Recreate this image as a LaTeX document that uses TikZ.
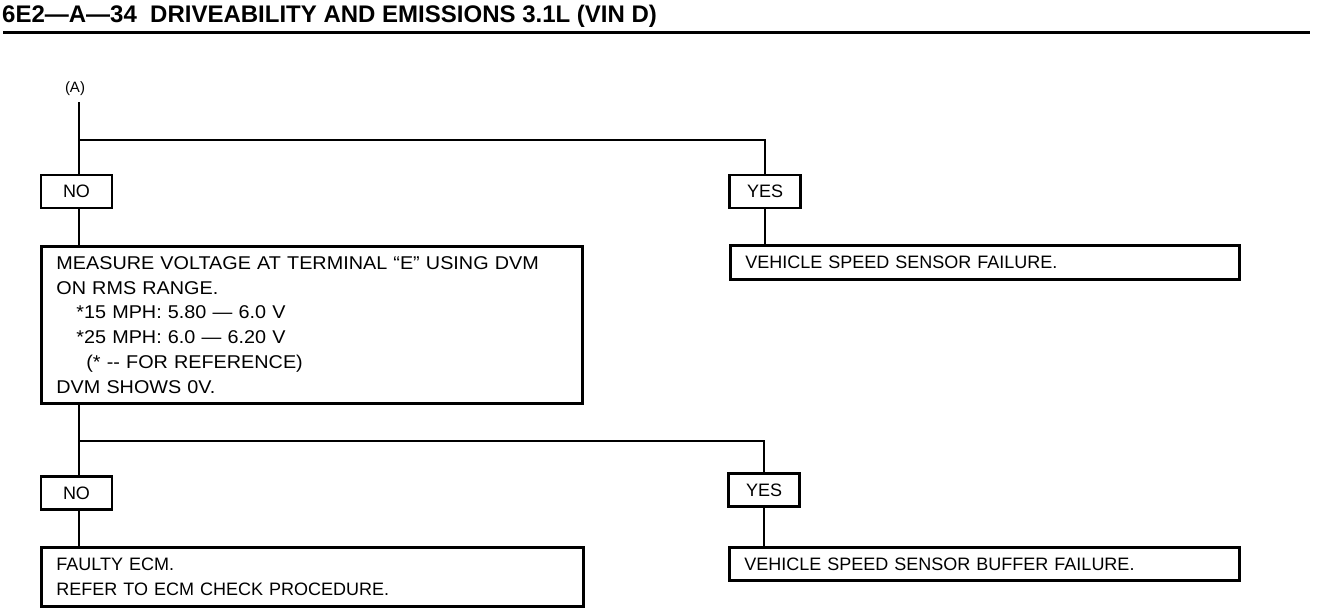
\documentclass[tikz,border=0pt]{standalone}
\usepackage{fontspec}
\setmainfont{Liberation Sans}
\newfontfamily\widefont[FakeStretch=1.07]{Liberation Sans}
\begin{document}
\begin{tikzpicture}[x=1pt,y=-1pt,
  box/.style={draw, line width=2.8pt, inner sep=0pt},
  txt/.style={font=\fontsize{18}{24.8}\selectfont},
  lbl/.style={box, font=\fontsize{18}{20}\selectfont, minimum width=71pt, minimum height=33pt},
  wire/.style={line width=2.4pt},
  widebox/.style={box, txt, anchor=north west, align=left, inner xsep=15pt}]
\useasboundingbox (0,0) rectangle (1328,608);
% header
\node[anchor=base west, inner sep=0pt, font=\bfseries\fontsize{24}{24}\selectfont] (hdr) at (2,22)
  {6E2—A—34\ \ DRIVEABILITY AND EMISSIONS 3.1L (VIN D)};
\coordinate (r1) at (3,32);
\coordinate (r2) at (1310,32);
\draw[line width=3pt] (r1) -- (r2);
% start
\node[font=\fontsize{15}{17}\selectfont, inner sep=0pt] (a) at (75,89) {(A)};
\coordinate (j1) at (79,140);
\coordinate (j2) at (79,441);
% first decision
\node[lbl] (no1) at (76.5,191.5) {NO};
\node[lbl] (yes1) at (765,191.5) {YES};
\node[widebox, font=\widefont\fontsize{18.5}{24.8}\selectfont, minimum width=541pt, minimum height=157pt, text width=511pt] (m) at (40,245)
  {MEASURE VOLTAGE AT TERMINAL “E” USING DVM\\
   ON RMS RANGE.\\
   \hspace*{20pt}*15 MPH: 5.80 — 6.0 V\\
   \hspace*{20pt}*25 MPH: 6.0 — 6.20 V\\
   \hspace*{30pt}(* -{}- FOR REFERENCE)\\
   DVM SHOWS 0V.};
\node[widebox, minimum width=509pt, minimum height=34pt, text width=479pt] (vss) at (729,244)
  {VEHICLE SPEED SENSOR FAILURE.};
% second decision
\node[lbl] (no2) at (76.5,493) {NO};
\node[lbl] (yes2) at (764,490) {YES};
\node[widebox, minimum width=542pt, minimum height=59pt, text width=512pt] (ecm) at (40,546)
  {FAULTY ECM.\\
   REFER TO ECM CHECK PROCEDURE.};
\node[widebox, minimum width=510pt, minimum height=33pt, text width=480pt] (buf) at (728,546)
  {VEHICLE SPEED SENSOR BUFFER FAILURE.};
% connectors
\draw[wire] (a.south -| j1) ++(0,6) -- (j1 |- no1.north);
\draw[wire] (j1) -| (yes1.north);
\draw[wire] (j1 |- no1.south) -- (j1 |- m.north);
\draw[wire] (yes1.south) -- (yes1.south |- vss.north);
\draw[wire] (j1 |- m.south) -- (j1 |- no2.north);
\draw[wire] (j2) -| (yes2.north);
\draw[wire] (j1 |- no2.south) -- (j1 |- ecm.north);
\draw[wire] (yes2.south) -- (yes2.south |- buf.north);
\end{tikzpicture}
\end{document}
